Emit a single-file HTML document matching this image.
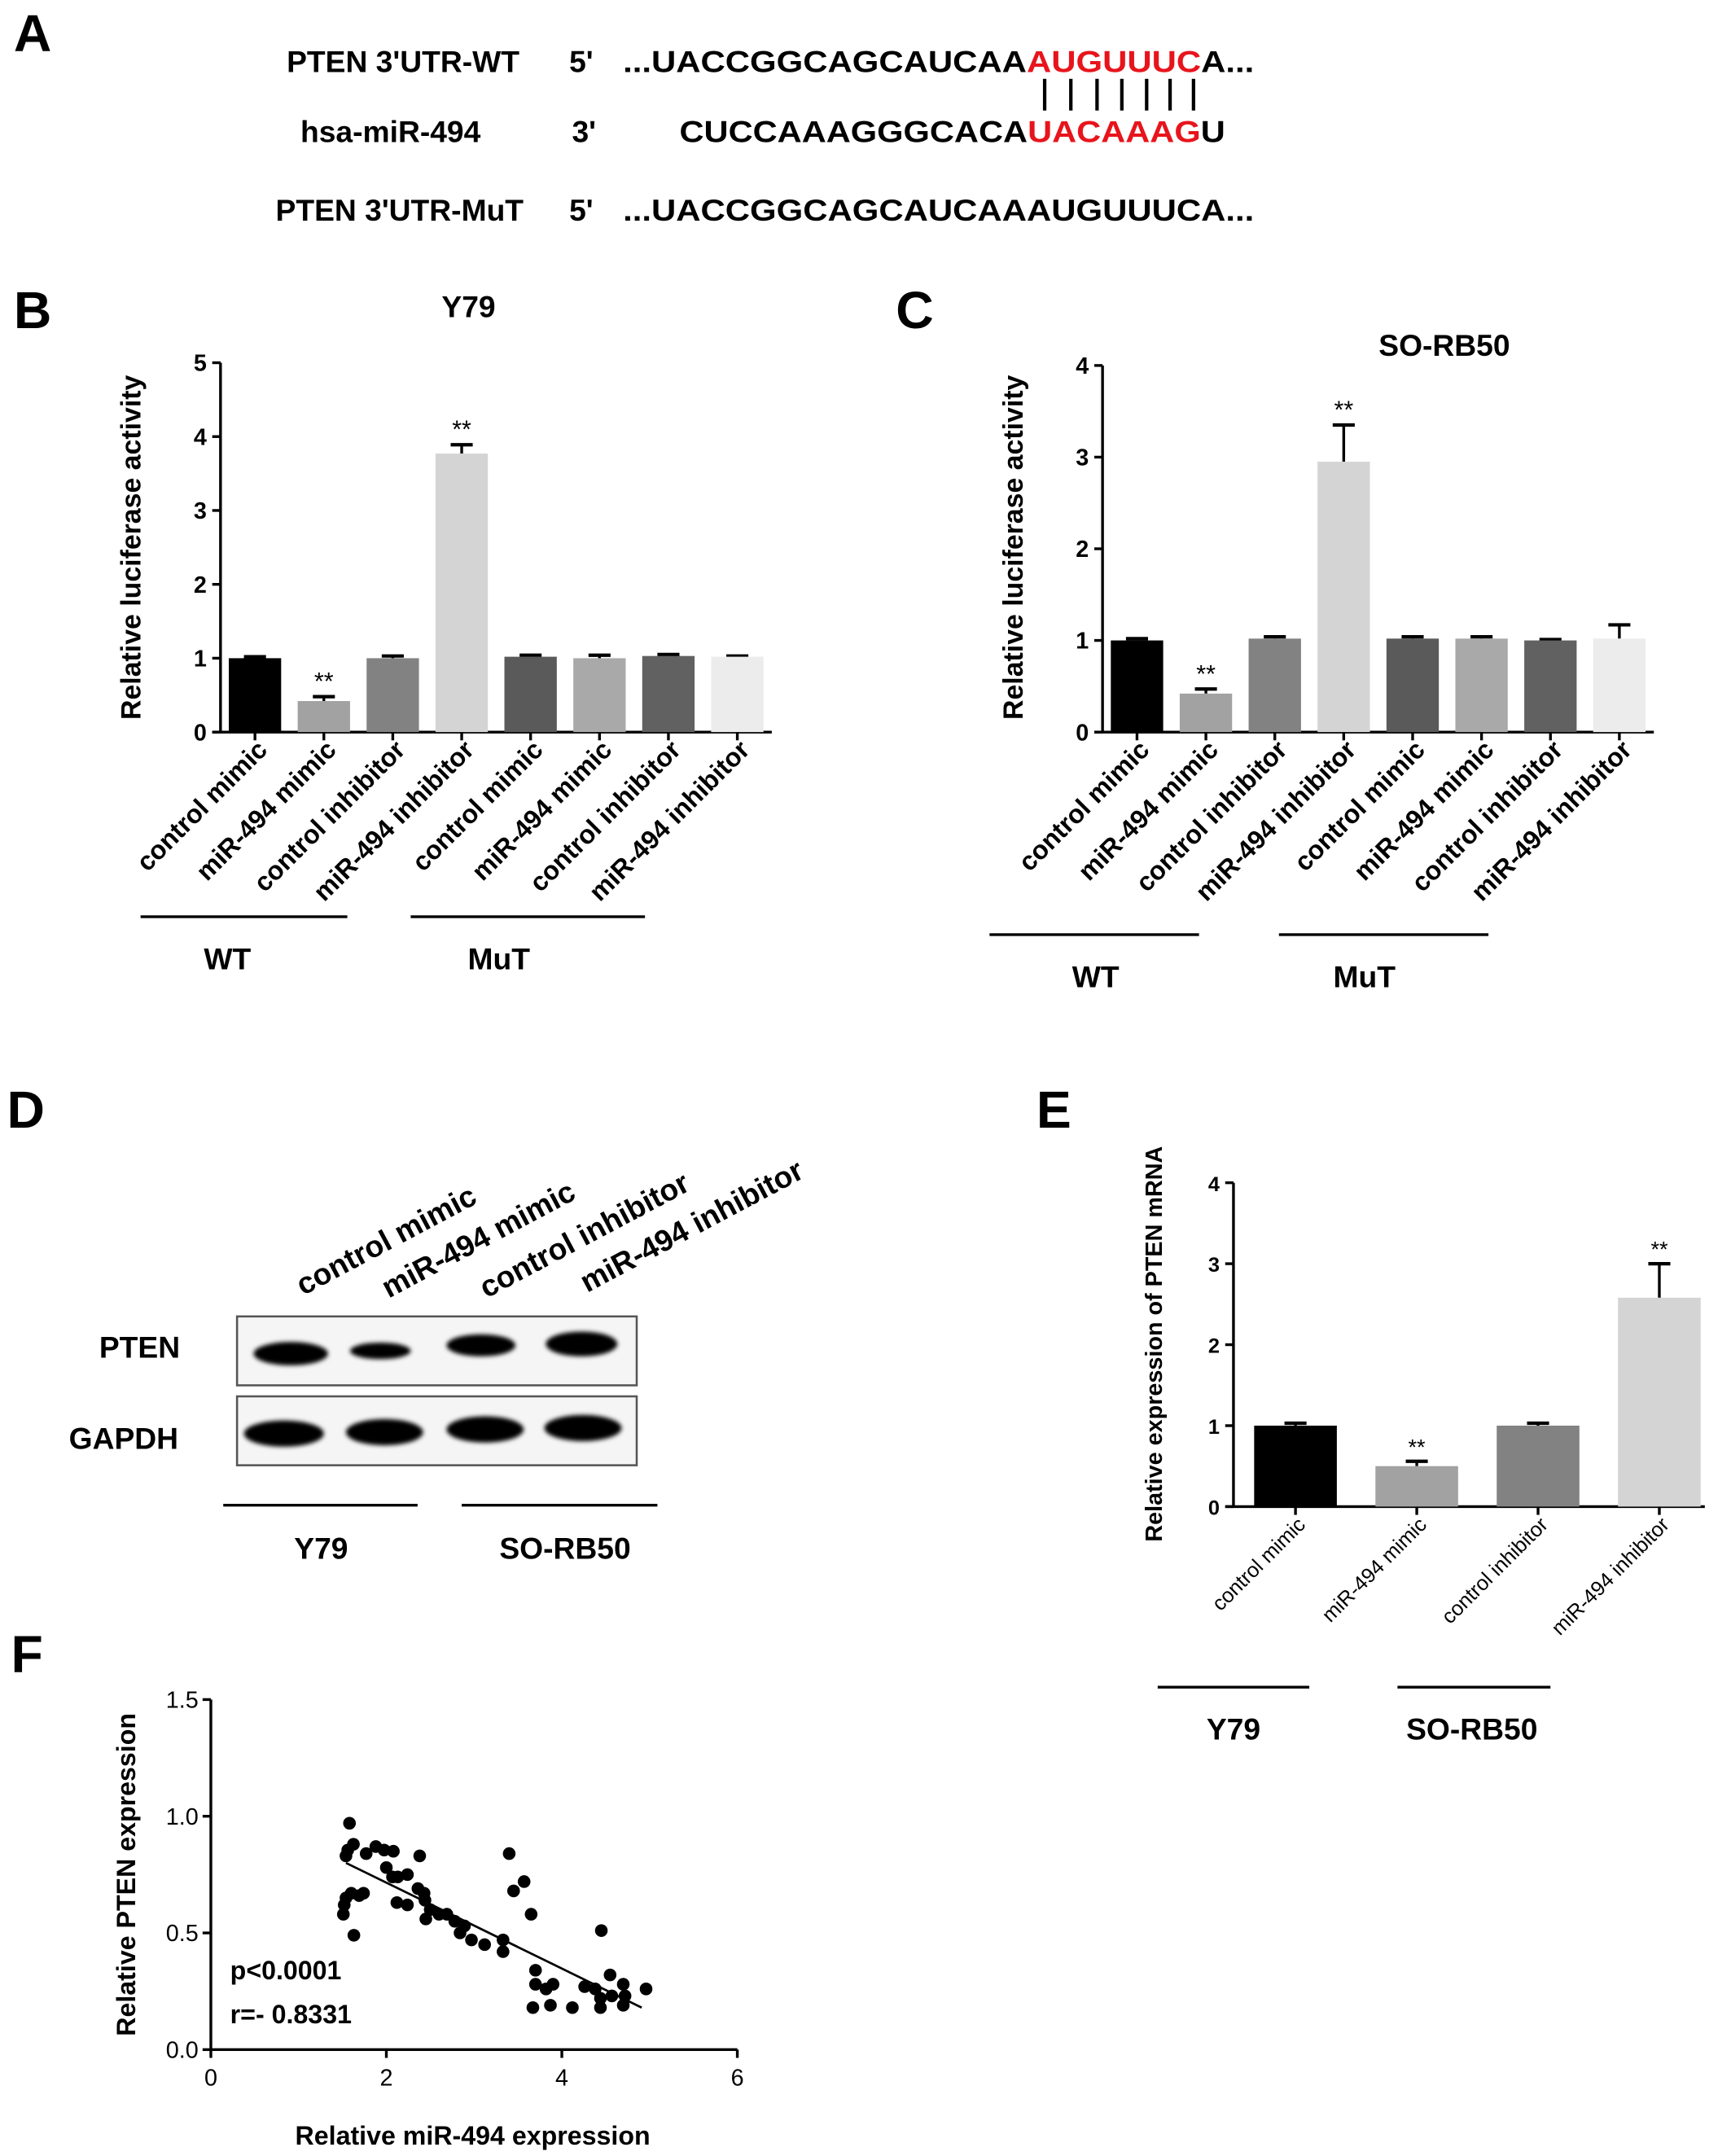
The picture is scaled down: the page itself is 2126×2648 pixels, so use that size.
<!DOCTYPE html>
<html><head><meta charset="utf-8">
<style>
html,body{margin:0;padding:0;background:#fff;}
svg{display:block;font-family:"Liberation Sans",Arial,sans-serif;}
.b{font-weight:bold;}
</style></head>
<body>
<svg id="fig" width="2126" height="2648" viewBox="0 0 1256 1564" xmlns="http://www.w3.org/2000/svg">
<rect width="1256" height="1564" fill="#fff"/>
<!-- Panel A -->
<g class="b" font-size="22">
<text x="10" y="37" font-size="38">A</text>
<text x="208" y="52">PTEN 3'UTR-WT</text>
<text x="413" y="52">5'</text>
<text x="452" y="52" textLength="458" lengthAdjust="spacingAndGlyphs">...UACCGGCAGCAUCAA<tspan fill="#e8141c">AUGUUUC</tspan>A...</text>
<text x="218" y="103">hsa-miR-494</text>
<text x="415" y="103">3'</text>
<text x="493" y="103" textLength="396" lengthAdjust="spacingAndGlyphs">CUCCAAAGGGCACA<tspan fill="#e8141c">UACAAAG</tspan>U</text>
<g stroke="#000" stroke-width="2.5">
<line x1="758" y1="57" x2="758" y2="80"/><line x1="777" y1="57" x2="777" y2="80"/><line x1="796" y1="57" x2="796" y2="80"/><line x1="814" y1="57" x2="814" y2="80"/><line x1="832" y1="57" x2="832" y2="80"/><line x1="849" y1="57" x2="849" y2="80"/><line x1="866" y1="57" x2="866" y2="80"/>
</g>
<text x="200" y="160">PTEN 3'UTR-MuT</text>
<text x="413" y="160">5'</text>
<text x="452" y="160" textLength="458" lengthAdjust="spacingAndGlyphs">...UACCGGCAGCAUCAAAUGUUUCA...</text>
</g>
<text class="b" x="10" y="238" font-size="38">B</text>
<text class="b" x="650" y="238" font-size="38">C</text>
<text class="b" x="5" y="818" font-size="38">D</text>
<text class="b" x="752" y="818" font-size="38">E</text>
<text class="b" x="8" y="1213" font-size="38">F</text>
<g id="gB"></g><g id="gC"></g><g id="gE"></g>
<!-- Panel D -->
<g>
<defs><filter id="bl" x="-20%" y="-50%" width="140%" height="200%"><feGaussianBlur stdDeviation="1.6"/></filter></defs>
<g class="b" font-size="22">
<text transform="translate(220,940) rotate(-28)">control mimic</text>
<text transform="translate(282,942) rotate(-28)">miR-494 mimic</text>
<text transform="translate(353,942) rotate(-28)">control inhibitor</text>
<text transform="translate(426,938) rotate(-28)">miR-494 inhibitor</text>
<text x="72" y="985">PTEN</text>
<text x="50" y="1051">GAPDH</text>
</g>
<rect x="172" y="955" width="290" height="50" fill="#f5f5f5" stroke="#555" stroke-width="1.5"/>
<rect x="172" y="1013" width="290" height="50" fill="#f5f5f5" stroke="#555" stroke-width="1.5"/>
<g fill="#000" filter="url(#bl)">
<ellipse cx="211" cy="982" rx="27" ry="8.5"/>
<ellipse cx="276" cy="980" rx="22" ry="6"/>
<ellipse cx="349" cy="976" rx="25" ry="8"/>
<ellipse cx="422" cy="975" rx="26" ry="9"/>
<ellipse cx="206" cy="1040" rx="29" ry="9.5"/>
<ellipse cx="279" cy="1039" rx="28" ry="9.5"/>
<ellipse cx="352" cy="1037" rx="28" ry="9.5"/>
<ellipse cx="423" cy="1036" rx="28" ry="9.5"/>
</g>
<line x1="162" y1="1092" x2="303" y2="1092" stroke="#000" stroke-width="2"/>
<line x1="335" y1="1092" x2="477" y2="1092" stroke="#000" stroke-width="2"/>
<text class="b" x="233" y="1131" font-size="22" text-anchor="middle">Y79</text>
<text class="b" x="410" y="1131" font-size="22" text-anchor="middle">SO-RB50</text>
</g>
<g id="gF"></g>
</svg>
<script>
// ---- data ----
const catsB = ["control mimic","miR-494 mimic","control inhibitor","miR-494 inhibitor","control mimic","miR-494 mimic","control inhibitor","miR-494 inhibitor"];
const valsB = [1.0,0.42,1.0,3.77,1.02,1.0,1.03,1.02];
const errB = [0.02,0.06,0.03,0.12,0.02,0.04,0.02,0.01];
const sigB = ["","**","","**","","","",""];
const ticksB = [0,1,2,3,4,5];
const valsC = [1.0,0.42,1.02,2.95,1.02,1.02,1.0,1.02];
const errC = [0.02,0.05,0.02,0.4,0.02,0.02,0.01,0.15];
const sigC = ["","**","","**","","","",""];
const ticksC = [0,1,2,3,4];
const catsE = ["control mimic","miR-494 mimic","control inhibitor","miR-494 inhibitor"];
const valsE = [1.0,0.5,1.0,2.58];
const errE = [0.03,0.06,0.03,0.42];
const sigE = ["","**","","**"];
const ticksE = [0,1,2,3,4];
const fX = [1.58,1.625,1.54,1.56,1.77,1.88,1.975,2.08,2.38,2.0,2.07,2.13,2.24,1.54,1.6,1.52,1.51,1.69,1.74,1.63,2.12,2.24,2.36,2.43,2.44,2.5,2.45,2.6,2.69,2.78,2.89,2.84,2.97,3.12,3.33,3.33,3.4,3.57,3.45,3.65,4.45,3.7,3.7,3.9,3.82,3.67,3.87,4.12,4.26,4.38,4.55,4.44,4.44,4.57,4.7,4.7,4.72,4.96];
const fY = [0.97,0.88,0.83,0.855,0.84,0.87,0.855,0.85,0.83,0.78,0.74,0.74,0.75,0.65,0.67,0.62,0.58,0.66,0.67,0.49,0.63,0.62,0.69,0.67,0.64,0.6,0.56,0.58,0.58,0.55,0.53,0.5,0.47,0.45,0.47,0.42,0.84,0.72,0.68,0.58,0.51,0.34,0.28,0.28,0.26,0.18,0.19,0.18,0.27,0.26,0.32,0.22,0.18,0.23,0.28,0.19,0.23,0.26];
const fitLineX = [1.54,4.91];
const fitLineY = [0.80,0.18];
const fXTicks = [0,2,4,6];
const fYTicks = ["0.0","0.5","1.0","1.5"];
const colorsB = ["#000","#a2a2a2","#828282","#d4d4d4","#5a5a5a","#a9a9a9","#616161","#ececec"];

const NS="http://www.w3.org/2000/svg";
function mk(parent,tag,attrs,text){const e=document.createElementNS(NS,tag);for(const k in attrs)e.setAttribute(k,attrs[k]);if(text!==undefined)e.textContent=text;parent.appendChild(e);return e;}

function barChart(g,o){
  const y=v=>o.y0-(v/o.ymax)*(o.y0-o.ytop);
  const x=i=>o.x0+o.step*(i+0.5)+o.off;
  let ax=mk(g,'line',{x1:o.x0,y1:o.ytop,x2:o.x0,y2:o.y0,stroke:'#000','stroke-width':2});
  
  
  let xa=mk(g,'line',{x1:o.x0-6,y1:o.y0,x2:o.x1,y2:o.y0,stroke:'#000','stroke-width':2});
  
  
  o.ticks.forEach(t=>{
    let l=mk(g,'line',{x1:o.x0-6,y1:y(t),x2:o.x0,y2:y(t),stroke:'#000','stroke-width':2});
    
    
    let tx=mk(g,'text',{x:o.x0-10,y:y(t)+6,'text-anchor':'end','font-size':o.tfs,'font-weight':'bold'},t);
    
    
  });
  o.vals.forEach((v,i)=>{
    const cx=x(i);
    let e=mk(g,'line',{x1:cx,y1:y(v),x2:cx,y2:y(v+o.err[i]),stroke:'#000','stroke-width':2});
    
    
    let c=mk(g,'line',{x1:cx-8,y1:y(v+o.err[i]),x2:cx+8,y2:y(v+o.err[i]),stroke:'#000','stroke-width':2.5});
    
    
    let r=mk(g,'rect',{x:cx-o.bw/2,y:y(v),width:o.bw,height:o.y0-y(v),fill:o.colors[i]});
    
    
    let tk=mk(g,'line',{x1:cx,y1:o.y0,x2:cx,y2:o.y0+6,stroke:'#000','stroke-width':2});
    
    
    if(o.sig[i]){
      let s=mk(g,'text',{x:cx,y:y(v+o.err[i])-5,'text-anchor':'middle','font-size':o.sfs},o.sig[i]);
      
      
    }
    let lb=mk(g,'text',{transform:`translate(${cx+o.lo},${o.y0+14}) rotate(-45)`,'text-anchor':'end','font-size':o.lfs,'font-weight':o.lbw},o.cats[i]);
    
    
  });
  let yl=mk(g,'text',{transform:`translate(${o.ylx},${o.yly}) rotate(-90)`,'text-anchor':'middle','font-size':o.yfs,'font-weight':'bold'},o.ylabel);
  
  
  if(o.title){let t=mk(g,'text',{x:o.tx,y:o.ty,'text-anchor':'middle','font-size':22,'font-weight':'bold'},o.title);
    
    }
  o.groups.forEach(gr=>{
    let l=mk(g,'line',{x1:gr[0],y1:o.gy,x2:gr[1],y2:o.gy,stroke:'#000','stroke-width':2});
    
    
    let t=mk(g,'text',{x:gr[2],y:o.gy+38,'text-anchor':'middle','font-size':22,'font-weight':'bold'},gr[3]);
    
    
  });
}
barChart(document.getElementById('gB'),{p:'panel-b',x0:160,x1:560,y0:531,ytop:263,ymax:5,step:50,off:0,bw:38,vals:valsB,err:errB,sig:sigB,cats:catsB,ticks:ticksB,colors:colorsB,tfs:17,sfs:18,lfs:19,lbw:'bold',lo:10,ylabel:'Relative luciferase activity',ylx:102,yly:397,yfs:20,title:'Y79',tx:340,ty:230,gy:665,groups:[[102,252,165,'WT'],[298,468,362,'MuT']]});
barChart(document.getElementById('gC'),{p:'panel-c',x0:800,x1:1200,y0:531,ytop:265,ymax:4,step:50,off:0,bw:38,vals:valsC,err:errC,sig:sigC,cats:catsB,ticks:ticksC,colors:colorsB,tfs:17,sfs:18,lfs:19,lbw:'bold',lo:10,ylabel:'Relative luciferase activity',ylx:742,yly:397,yfs:20,title:'SO-RB50',tx:1048,ty:258,gy:678,groups:[[718,870,795,'WT'],[928,1080,990,'MuT']]});
barChart(document.getElementById('gE'),{p:'panel-e',x0:895,x1:1237,y0:1093,ytop:858,ymax:4,step:88,off:1,bw:60,vals:valsE,err:errE,sig:sigE,cats:catsE,ticks:ticksE,colors:colorsB,tfs:15,sfs:16,lfs:15,lbw:'normal',lo:8,ylabel:'Relative expression of PTEN mRNA',ylx:843,yly:975,yfs:17,title:'',gy:1224,groups:[[840,950,895,'Y79'],[1014,1125,1068,'SO-RB50']]});

// Panel F
(function(){
  const g=document.getElementById('gF');
  const x0=153,x1=535,y0=1487,yt=1233;
  const X=v=>x0+v/6*(x1-x0), Y=v=>y0-v/1.5*(y0-yt);
  let a=mk(g,'line',{x1:x0,y1:yt,x2:x0,y2:y0,stroke:'#000','stroke-width':2});
  
  
  let b=mk(g,'line',{x1:x0,y1:y0,x2:x1,y2:y0,stroke:'#000','stroke-width':2});
  
  
  fXTicks.forEach(t=>{
    let l=mk(g,'line',{x1:X(t),y1:y0,x2:X(t),y2:y0+6,stroke:'#000','stroke-width':2});
    
    
    let tx=mk(g,'text',{x:X(t),y:y0+26,'text-anchor':'middle','font-size':17},t);
    
    
  });
  fYTicks.forEach(t=>{
    let l=mk(g,'line',{x1:x0-6,y1:Y(+t),x2:x0,y2:Y(+t),stroke:'#000','stroke-width':2});
    
    
    let tx=mk(g,'text',{x:x0-9,y:Y(+t)+6,'text-anchor':'end','font-size':17},t);
    
    
  });
  fX.forEach((v,i)=>{
    let c=mk(g,'circle',{cx:X(v),cy:Y(fY[i]),r:4.6,fill:'#000'});
    
    
  });
  let fl=mk(g,'line',{x1:X(fitLineX[0]),y1:Y(fitLineY[0]),x2:X(fitLineX[1]),y2:Y(fitLineY[1]),stroke:'#000','stroke-width':1.6});
  
  
  let p=mk(g,'text',{x:167,y:1436,'font-size':19,'font-weight':'bold'},'p<0.0001');
  
  
  let r=mk(g,'text',{x:167,y:1468,'font-size':19,'font-weight':'bold'},'r=- 0.8331');
  
  
  let xl=mk(g,'text',{x:343,y:1556,'text-anchor':'middle','font-size':19,'font-weight':'bold'},'Relative miR-494 expression');
  
  
  let yl=mk(g,'text',{transform:'translate(98,1360) rotate(-90)','text-anchor':'middle','font-size':19,'font-weight':'bold'},'Relative PTEN  expression');
  
  
})();
</script>
</body></html>
